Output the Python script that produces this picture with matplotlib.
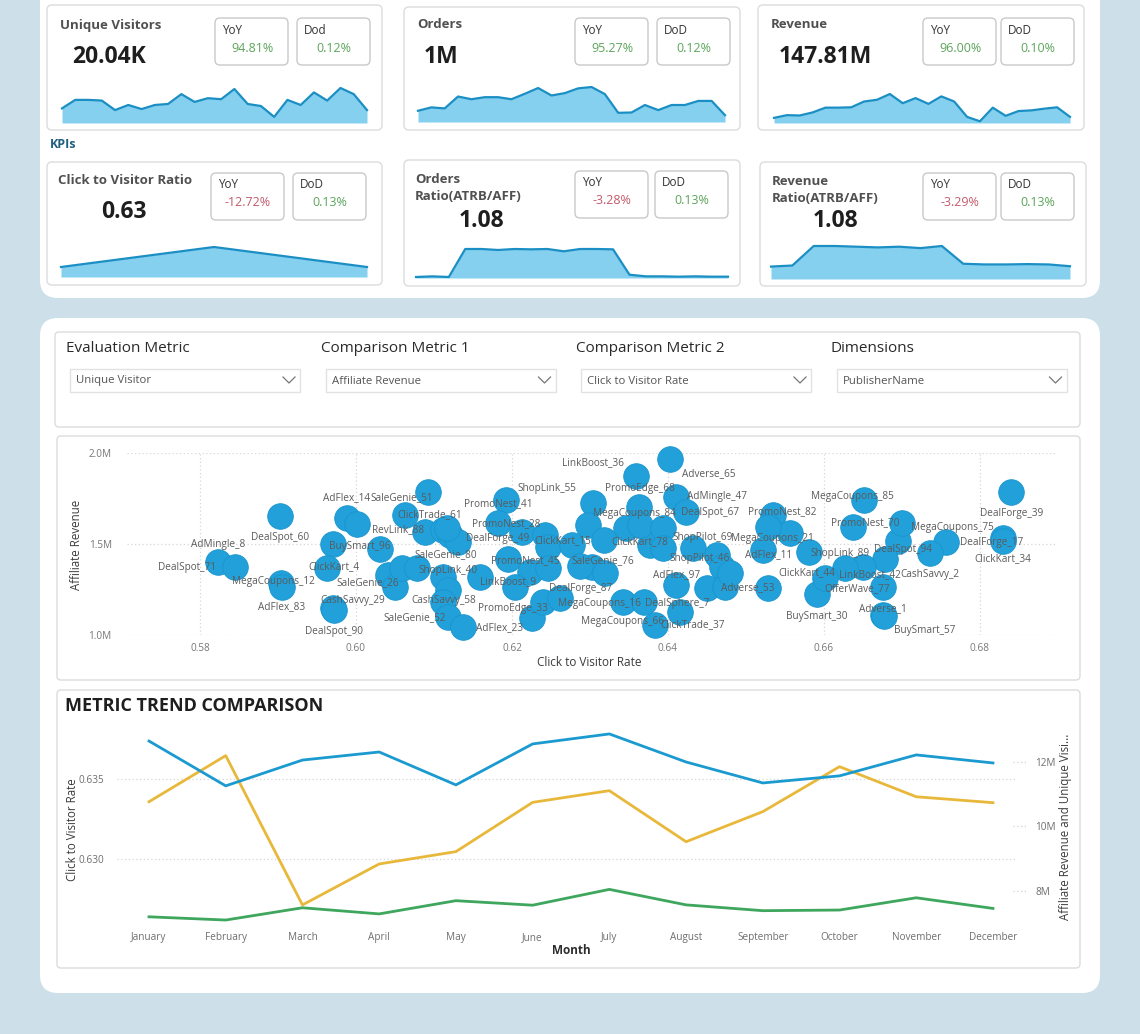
import matplotlib
matplotlib.use("Agg")
import matplotlib.pyplot as plt
from matplotlib.patches import FancyBboxPatch
from matplotlib.ticker import FuncFormatter

plt.rcParams['font.family'] = ['Open Sans', 'DejaVu Sans']

# ---------------- data ----------------
kpi_titles = ['Unique Visitors', 'Orders', 'Revenue', 'Click to Visitor Ratio',
              'Orders\nRatio(ATRB/AFF)', 'Revenue\nRatio(ATRB/AFF)']
kpi_values = ['20.04K', '1M', '147.81M', '0.63', '1.08', '1.08']
kpi_yoy = [94.81, 95.27, 96.00, -12.72, -3.28, -3.29]
kpi_dod = [0.12, 0.12, 0.10, 0.13, 0.13, 0.13]
dod_names = ['Dod', 'DoD', 'DoD', 'DoD', 'DoD', 'DoD']

spark_visitors = [43, 68, 68, 66, 38, 53, 41, 53, 56, 85, 62, 73, 70, 100, 56, 50, 18, 68, 53, 90, 66, 103, 85, 38]
spark_orders = [33, 43, 40, 75, 67, 73, 73, 67, 83, 100, 78, 85, 99, 103, 82, 27, 28, 50, 35, 50, 50, 62, 62, 20]
spark_revenue = [15, 23, 22, 31, 45, 45, 46, 63, 68, 85, 58, 73, 56, 78, 63, 18, 5, 45, 21, 35, 37, 42, 46, 18]
spark_ctr = [30, 90, 30]
spark_orders_ratio = [3, 5, 3, 88, 88, 85, 88, 87, 88, 81, 88, 88, 87, 10, 5, 5, 4, 5, 4, 4]
spark_revenue_ratio = [35, 38, 93, 93, 91, 89, 91, 87, 93, 43, 41, 41, 42, 41, 36]
sparks = [spark_visitors, spark_orders, spark_revenue, spark_ctr, spark_orders_ratio, spark_revenue_ratio]

slicer_labels = ['Evaluation Metric', 'Comparison Metric 1', 'Comparison Metric 2', 'Dimensions']
slicer_values = ['Unique Visitor', 'Affiliate Revenue', 'Click to Visitor Rate', 'PublisherName']

publishers = ['AdMingle_8', 'DealSpot_71', 'DealSpot_60', 'MegaCoupons_12', 'AdFlex_83', 'AdFlex_14', '', '',
              'BuySmart_96', 'ClickKart_4', 'CashSavvy_29', 'DealSpot_90', 'SaleGenie_26', '', '',
              'SaleGenie_51', 'ClickTrade_61', 'RevLink_88', '', '', '', '',
              'PromoNest_41', 'PromoNest_28', 'DealForge_49', '', '', 'ClickKart_15',
              'SaleGenie_80', 'ShopLink_40', '', 'PromoNest_45', '', '', 'LinkBoost_9', '',
              'CashSavvy_58', 'SaleGenie_52', 'AdFlex_23', 'PromoEdge_33', '', 'DealForge_87',
              'SaleGenie_76', '', '', 'ShopLink_55', 'LinkBoost_36', 'Adverse_65', 'PromoEdge_68',
              'MegaCoupons_84', 'AdMingle_47', 'DealSpot_67', 'ClickKart_78', '', '', '', '', '',
              'ShopPilot_69', 'ShopPilot_46', '', '', '', '', 'AdFlex_97', 'MegaCoupons_16',
              'DealSphere_7', 'MegaCoupons_66', 'ClickTrade_37', 'DealForge_39', 'DealForge_17',
              'ClickKart_34', 'MegaCoupons_75', '', 'DealSpot_94', '', 'PromoNest_70',
              'MegaCoupons_85', 'CashSavvy_2', 'LinkBoost_42', '', 'OfferWave_77', 'Adverse_1',
              'BuySmart_57', 'BuySmart_30', 'ClickKart_44', 'ShopLink_89', 'PromoNest_82',
              'MegaCoupons_21', '', 'AdFlex_11', 'Adverse_53']
click_rate = [0.5823, 0.5845, 0.5903, 0.5904, 0.5905, 0.5988, 0.6001, 0.5971,
              0.6031, 0.5963, 0.5971, 0.5972, 0.6041, 0.6050, 0.6059,
              0.6092, 0.6063, 0.6088, 0.6112, 0.6121, 0.6131, 0.6117,
              0.6192, 0.6182, 0.6213, 0.6242, 0.6246, 0.6277,
              0.6112, 0.6118, 0.6078, 0.6195, 0.6223, 0.6246, 0.6204, 0.6159,
              0.6112, 0.6118, 0.6137, 0.6226, 0.6240, 0.6262,
              0.6303, 0.6287, 0.6319, 0.6304, 0.6359, 0.6403, 0.6363,
              0.6346, 0.6410, 0.6423, 0.6377, 0.6364, 0.6394, 0.6394, 0.6297, 0.6318,
              0.6432, 0.6463, 0.6469, 0.6450, 0.6473, 0.6479, 0.6410, 0.6342,
              0.6369, 0.6383, 0.6415, 0.6840, 0.6829,
              0.6829, 0.6756, 0.6736, 0.6695, 0.6700, 0.6637,
              0.6651, 0.6678, 0.6650, 0.6627, 0.6676, 0.6676,
              0.6677, 0.6591, 0.6601, 0.6581, 0.6535,
              0.6556, 0.6528, 0.6522, 0.6528]
aff_revenue = [1.401, 1.374, 1.654, 1.286, 1.264, 1.643, 1.610, 1.500,
               1.473, 1.368, 1.148, 1.137, 1.330, 1.264, 1.368,
               1.786, 1.659, 1.566, 1.577, 1.549, 1.511, 1.588,
               1.742, 1.615, 1.566, 1.549, 1.484, 1.495,
               1.319, 1.247, 1.368, 1.418, 1.346, 1.368, 1.264, 1.319,
               1.181, 1.099, 1.044, 1.093, 1.181, 1.203,
               1.374, 1.379, 1.341, 1.725, 1.874, 1.967, 1.703,
               1.588, 1.758, 1.676, 1.495, 1.604, 1.588, 1.478, 1.604, 1.522,
               1.478, 1.440, 1.374, 1.258, 1.264, 1.341, 1.275, 1.181,
               1.181, 1.055, 1.126, 1.786, 1.533,
               1.516, 1.511, 1.451, 1.516, 1.615, 1.593,
               1.742, 1.418, 1.374, 1.368, 1.264, 1.110,
               1.104, 1.225, 1.313, 1.456, 1.659,
               1.560, 1.593, 1.467, 1.258]

months = ['January', 'February', 'March', 'April', 'May', 'June', 'July',
          'August', 'September', 'October', 'November', 'December']
trend_revenue = [12.65, 11.26, 12.06, 12.31, 11.29, 12.56, 12.87, 12.00, 11.35, 11.57, 12.22, 11.97]
trend_visitors = [7.20, 7.10, 7.48, 7.29, 7.70, 7.56, 8.05, 7.57, 7.39, 7.41, 7.79, 7.46]
trend_ctr = [0.63358, 0.63646, 0.62713, 0.62969, 0.63046, 0.63354, 0.63427,
             0.63108, 0.63296, 0.63577, 0.63389, 0.63352]

# label placement for scatter (pixel offsets, layout only)
label_off = [(0, 18), (-48, -1), (0, -22), (-8, 1), (0, -20), (0, 20), (0, 0), (0, 0),
             (-20, 2), (7, 1), (19, 8), (0, -21), (-20, -8), (0, 0), (0, 0),
             (-26, -6), (25, 0), (-27, 2), (0, 0), (0, 0), (0, 0), (0, 0),
             (-8, -4), (8, -1), (-25, -7), (0, 0), (0, 0), (-9, 4),
             (2, 22), (0, 20), (0, 0), (17, -2), (0, 0), (0, 0), (-7, 5), (0, 0),
             (0, 2), (-33, -1), (37, -1), (-19, 10), (0, 0), (20, 10),
             (11, 6), (0, 0), (0, 0), (-46, 15), (-43, 13), (38, -15), (1, 19),
             (9, 14), (41, 1), (24, -1), (-10, 3), (0, 0), (0, 0), (0, 0), (0, 0), (0, 0),
             (10, 11), (-17, -4), (0, 0), (0, 0), (0, 0), (0, 0), (1, 10), (-23, -1),
             (33, -1), (-32, 3), (13, -13), (0, -22), (-11, -5),
             (0, -18), (7, 14), (0, 0), (5, -8), (0, 0), (12, 4),
             (-11, 3), (45, -16), (7, -8), (0, 0), (-26, -2), (0, 6),
             (41, -14), (0, -22), (-18, 5), (31, -1), (9, 3),
             (-17, -5), (0, 0), (5, -5), (-20, 0)]

# ---------------- figure ----------------
W, H = 1140, 1034
BG = '#cde0ea'
fig = plt.figure(figsize=(W / 100, H / 100), dpi=100, facecolor=BG)
bg = fig.add_axes([0, 0, 1, 1])
bg.set_xlim(0, W)
bg.set_ylim(H, 0)
bg.axis('off')


def px_axes(x0, y0, x1, y1):
    a = fig.add_axes([x0 / W, 1 - y1 / H, (x1 - x0) / W, (y1 - y0) / H])
    a.patch.set_alpha(0)
    return a


def rbox(x0, y0, x1, y1, r=6, fc='white', ec='#dedede', lw=1.0, z=1):
    bg.add_patch(FancyBboxPatch((x0, y0), x1 - x0, y1 - y0,
                                boxstyle=f'round,pad=0,rounding_size={r}',
                                fc=fc, ec=ec, lw=lw, zorder=z))


# panels
rbox(40, -30, 1100, 298, r=18, ec='none')
rbox(40, 318, 1100, 993, r=18, ec='none')

# ---------------- KPI cards ----------------
cards = [
    dict(box=(47, 5, 382, 130), title=(60, 25), value=(72, 57, 'left'), yoy=(215, 18), dod=(297, 18), spark=(62, 88, 367, 123)),
    dict(box=(404, 7, 740, 130), title=(417, 24), value=(424, 57, 'left'), yoy=(575, 18), dod=(657, 18), spark=(418, 87, 725, 122)),
    dict(box=(758, 5, 1084, 130), title=(771, 24), value=(779, 57, 'left'), yoy=(923, 18), dod=(1001, 18), spark=(774, 94, 1070, 123)),
    dict(box=(47, 162, 382, 285), title=(58, 180), value=(124, 212, 'center'), yoy=(211, 173), dod=(293, 173), spark=(61, 247, 367, 277)),
    dict(box=(404, 160, 740, 286), title=(415, 188), value=(481, 221, 'center'), yoy=(575, 171), dod=(655, 171), spark=(416, 249, 728, 278)),
    dict(box=(760, 162, 1086, 286), title=(772, 190), value=(835, 221, 'center'), yoy=(923, 173), dod=(1001, 173), spark=(771, 246, 1070, 279)),
]

for i, c in enumerate(cards):
    x0, y0, x1, y1 = c['box']
    rbox(x0, y0, x1, y1, r=5, ec='#dcdcdc', z=2)
    bg.text(c['title'][0], c['title'][1], kpi_titles[i], fontsize=9.5, fontweight='bold',
            color='#505050', ha='left', va='center', linespacing=1.45, zorder=3)
    vx, vy, ha = c['value']
    bg.text(vx, vy, kpi_values[i], fontsize=16.5, fontweight='bold', color='#1e1e1e',
            ha=ha, va='center', zorder=3)
    for (bx, by), name, val in [(c['yoy'], 'YoY', kpi_yoy[i]), (c['dod'], dod_names[i], kpi_dod[i])]:
        rbox(bx, by, bx + 73, by + 47, r=5, ec='#c9c9c9', z=3)
        bg.text(bx + 7, by + 12, name, fontsize=8.5, color='#333333', ha='left', va='center', zorder=4)
        col = '#5ca55c' if val >= 0 else '#c45b6c'
        bg.text(bx + 37, by + 30, f'{val:.2f}%', fontsize=9, color=col, ha='center', va='center', zorder=4)
    sx0, sy0, sx1, sy1 = c['spark']
    sa = px_axes(sx0, sy0, sx1, sy1)
    vals = sparks[i]
    xs = range(len(vals))
    sa.fill_between(xs, 0, vals, color='#86d0ef', lw=0)
    sa.plot(xs, vals, color='#1b8fc4', lw=1.6, clip_on=False)
    sa.set_xlim(0, len(vals) - 1)
    sa.set_ylim(0, max(vals))
    sa.axis('off')

bg.text(50, 144, 'KPIs', fontsize=9, fontweight='bold', color='#1f5f7f', ha='left', va='center', zorder=3)

# ---------------- slicers ----------------
rbox(55, 332, 1080, 427, r=4, ec='#dcdcdc', z=2)
for k, (lab, val) in enumerate(zip(slicer_labels, slicer_values)):
    lx = 66 + k * 255
    bg.text(lx, 349, lab, fontsize=11, color='#2a2a2a', ha='left', va='center', zorder=3)
    dx0 = 70 + k * 255.5
    bg.add_patch(plt.Rectangle((dx0, 369), 230, 23, fc='white', ec='#e2e2e2', lw=1, zorder=3))
    bg.text(dx0 + 6, 381, val, fontsize=8.2, color='#555555', ha='left', va='center', zorder=4)
    cx = dx0 + 219
    bg.plot([cx - 6, cx, cx + 6], [377, 383, 377], color='#777777', lw=0.9, zorder=4)

# ---------------- scatter ----------------
rbox(57, 436, 1080, 680, r=4, ec='#dcdcdc', z=2)
ax = px_axes(127, 453, 1055, 635)
ax.set_zorder(5)
ax.set_xlim(0.57064, 0.68962)
ax.set_ylim(1.0, 2.0)
for v in [1.0, 1.5, 2.0]:
    ax.axhline(v, color='#d6d6d6', lw=0.9, ls=(0, (1, 2)), zorder=0)
for v in [0.58, 0.60, 0.62, 0.64, 0.66, 0.68]:
    ax.axvline(v, color='#d6d6d6', lw=0.9, ls=(0, (1, 2)), zorder=0)
ax.scatter(click_rate, aff_revenue, s=340, color='#21a0da', edgecolor='#1a94cd',
           lw=0.6, zorder=3, clip_on=False)
for name, xv, yv, off in zip(publishers, click_rate, aff_revenue, label_off):
    if name:
        ax.annotate(name, (xv, yv), xytext=off, textcoords='offset pixels', ha='center',
                    va='center', fontsize=7.2, color='#5b5b5b', zorder=6, annotation_clip=False)
ax.set_xticks([0.58, 0.60, 0.62, 0.64, 0.66, 0.68])
ax.set_xticklabels(['0.58', '0.60', '0.62', '0.64', '0.66', '0.68'])
ax.set_yticks([1.0, 1.5, 2.0])
ax.set_yticklabels(['1.0M', '1.5M', '2.0M'])
ax.tick_params(length=0, labelsize=7.2, labelcolor='#777777')
ax.tick_params(axis='y', pad=11)
ax.tick_params(axis='x', pad=6)
for s in ax.spines.values():
    s.set_visible(False)
bg.text(77, 545, 'Affiliate Revenue', rotation=90, fontsize=8.3, color='#3a3a3a', ha='center', va='center', zorder=3)
bg.text(589, 663, 'Click to Visitor Rate', fontsize=8.5, color='#3a3a3a', ha='center', va='center', zorder=3)

# ---------------- trend chart ----------------
rbox(57, 690, 1080, 968, r=4, ec='#dcdcdc', z=2)
bg.text(65, 706, 'METRIC TREND COMPARISON', fontsize=13, fontweight='bold', color='#1e1e1e',
        ha='left', va='center', zorder=3)
lx = px_axes(117, 725, 1017, 925)
lx.set_zorder(5)
rx = lx.twinx()
rx.patch.set_alpha(0)
idx = list(range(len(months)))
lx.set_xlim(-0.417, 11.313)
lx.set_ylim(0.625875, 0.638375)
rx.set_ylim(6.946, 13.147)
for v in [0.630, 0.635]:
    lx.axhline(v, color='#d6d6d6', lw=0.9, ls=(0, (1, 2)), zorder=0)
rx.plot(idx, trend_revenue, color='#1b9ad0', lw=2, zorder=3)
rx.plot(idx, trend_visitors, color='#3ea65d', lw=2, zorder=3)
lx.plot(idx, trend_ctr, color='#e8b83b', lw=2, zorder=3)
lx.set_xticks(idx)
lx.set_xticklabels(months)
lx.set_yticks([0.630, 0.635])
lx.yaxis.set_major_formatter(FuncFormatter(lambda v, p: f'{v:.3f}'))
rx.set_yticks([8, 10, 12])
rx.set_yticklabels(['8M', '10M', '12M'])
rx.hlines([8, 10, 12], 0.995, 1.012, transform=rx.get_yaxis_transform(), colors='#d0d0d0',
          lw=0.9, linestyles=(0, (1, 2)), clip_on=False)
for a in (lx, rx):
    a.tick_params(length=0, labelsize=7.2, labelcolor='#6f6f6f')
    for s in a.spines.values():
        s.set_visible(False)
lx.tick_params(axis='y', pad=9)
lx.tick_params(axis='x', pad=5)
rx.tick_params(axis='y', pad=13)
bg.text(72, 830, 'Click to Visitor Rate', rotation=90, fontsize=8.3, color='#3a3a3a', ha='center', va='center', zorder=3)
bg.text(1066, 827, 'Affiliate Revenue and Unique Visi...', rotation=90, fontsize=8.3, color='#3a3a3a',
        ha='center', va='center', zorder=3)
bg.text(571, 951, 'Month', fontsize=8.5, fontweight='bold', color='#2e2e2e', ha='center', va='center', zorder=3)

fig.savefig('out.png', dpi=100, facecolor=BG)
